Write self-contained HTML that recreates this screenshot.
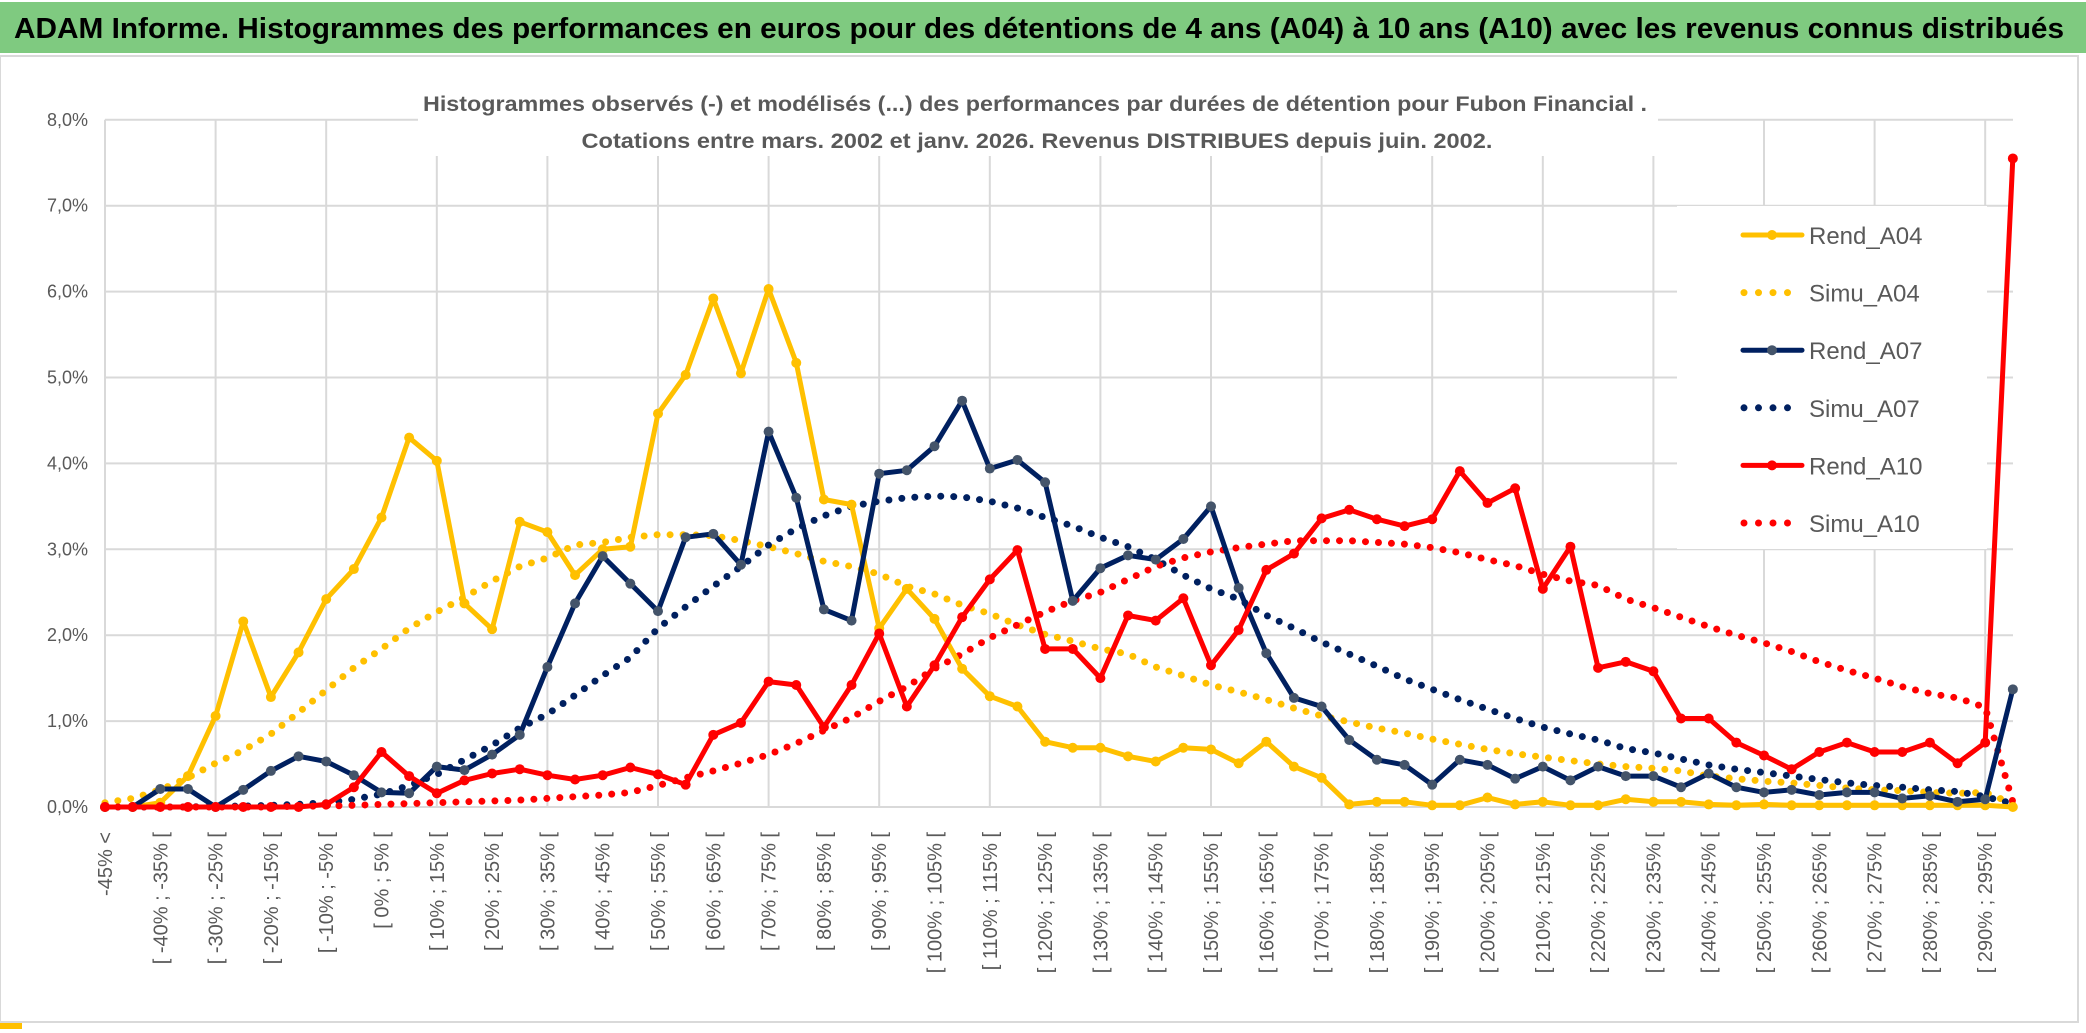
<!DOCTYPE html>
<html><head><meta charset="utf-8">
<style>
html,body{margin:0;padding:0;background:#fff;}
body{width:2086px;height:1033px;overflow:hidden;position:relative;font-family:"Liberation Sans",sans-serif;}
#title{position:absolute;left:0;top:2px;width:2086px;height:51px;background:#7fca80;}
#chartframe{position:absolute;left:0;top:55px;width:2079px;height:968px;border:2px solid #d9d9d9;border-left:1px solid #d9d9d9;box-sizing:border-box;}
svg{position:absolute;left:0;top:0;}
</style></head>
<body>
<div id="title"></div>
<div id="chartframe"></div>
<svg id="chart" width="2086" height="1033">
  <text x="14" y="38" font-family="Liberation Sans, sans-serif" font-weight="bold" font-size="29" fill="#000" textLength="2050" lengthAdjust="spacingAndGlyphs">ADAM Informe. Histogrammes des performances en euros pour des détentions de 4 ans (A04) à 10 ans (A10) avec les revenus connus distribués</text>
  <g id="grid"></g>
  <rect x="418" y="82" width="1240" height="74" fill="#fff"/>
  <text x="1035" y="111" text-anchor="middle" font-size="21" font-weight="bold" fill="#595959" textLength="1224" lengthAdjust="spacingAndGlyphs">Histogrammes observés (-) et modélisés (...) des performances par durées de détention pour Fubon Financial .</text>
  <text x="1037" y="148" text-anchor="middle" font-size="21" font-weight="bold" fill="#595959" textLength="911" lengthAdjust="spacingAndGlyphs">Cotations entre mars. 2002 et janv. 2026. Revenus DISTRIBUES depuis juin. 2002.</text>
  <g id="series"></g>
  <g id="legend"></g>
  <g id="xlabels"></g>
  <g id="ylabels"></g>
  <rect x="0" y="1023" width="22" height="6" fill="#ffc000"/>
</svg>
<script>
const categoriesCount = 70;
const yTicks = ["0,0%","1,0%","2,0%","3,0%","4,0%","5,0%","6,0%","7,0%","8,0%"];
const rendA04 = [0,0,0.05,0.36,1.06,2.16,1.28,1.8,2.42,2.77,3.37,4.3,4.03,2.37,2.07,3.32,3.2,2.7,3.0,3.03,4.58,5.03,5.92,5.05,6.03,5.17,3.58,3.52,2.08,2.54,2.19,1.61,1.29,1.17,0.76,0.69,0.69,0.59,0.53,0.69,0.67,0.51,0.76,0.47,0.34,0.03,0.06,0.06,0.02,0.02,0.11,0.03,0.06,0.02,0.02,0.09,0.06,0.06,0.03,0.02,0.03,0.02,0.02,0.02,0.02,0.02,0.02,0.02,0.02,0.0];
const simuA04 = [0.05,0.1,0.2,0.34,0.51,0.66,0.85,1.1,1.36,1.62,1.84,2.08,2.27,2.44,2.63,2.8,2.9,3.05,3.08,3.14,3.17,3.17,3.16,3.1,3.03,2.95,2.86,2.8,2.71,2.57,2.48,2.35,2.25,2.12,2.01,1.93,1.84,1.78,1.63,1.53,1.42,1.34,1.25,1.15,1.06,0.99,0.92,0.86,0.79,0.73,0.67,0.62,0.58,0.54,0.5,0.47,0.45,0.42,0.36,0.33,0.3,0.28,0.25,0.22,0.2,0.19,0.17,0.16,0.17,0.04];
const rendA07 = [0,0,0.21,0.21,0,0.2,0.42,0.59,0.53,0.37,0.17,0.16,0.47,0.43,0.61,0.84,1.63,2.37,2.92,2.6,2.28,3.14,3.18,2.82,4.37,3.6,2.3,2.17,3.88,3.92,4.2,4.73,3.94,4.04,3.78,2.4,2.78,2.93,2.88,3.12,3.5,2.55,1.79,1.27,1.17,0.78,0.55,0.49,0.26,0.55,0.49,0.33,0.47,0.31,0.47,0.36,0.36,0.23,0.39,0.23,0.17,0.2,0.14,0.17,0.17,0.1,0.13,0.06,0.09,1.37];
const simuA07 = [0,0,0,0,0.01,0.01,0.02,0.03,0.05,0.09,0.15,0.25,0.38,0.55,0.72,0.92,1.08,1.3,1.53,1.74,2.08,2.33,2.57,2.8,3.05,3.24,3.39,3.5,3.56,3.6,3.62,3.61,3.56,3.48,3.37,3.27,3.14,3.03,2.88,2.7,2.54,2.42,2.23,2.08,1.92,1.78,1.64,1.49,1.37,1.25,1.14,1.03,0.93,0.85,0.78,0.68,0.63,0.56,0.49,0.44,0.4,0.36,0.32,0.28,0.25,0.23,0.2,0.18,0.12,0.04];
const rendA10 = [0,0,0,0,0,0,0,0,0.03,0.23,0.64,0.36,0.16,0.31,0.39,0.44,0.37,0.32,0.37,0.46,0.38,0.26,0.84,0.98,1.46,1.42,0.93,1.42,2.02,1.17,1.65,2.21,2.65,2.99,1.84,1.84,1.5,2.23,2.17,2.43,1.65,2.06,2.76,2.95,3.36,3.46,3.35,3.27,3.35,3.91,3.54,3.71,2.54,3.03,1.62,1.69,1.58,1.03,1.03,0.75,0.6,0.44,0.64,0.75,0.64,0.64,0.75,0.51,0.75,7.55];
const simuA10 = [0,0,0,0,0,0,0,0.01,0.01,0.02,0.03,0.04,0.05,0.06,0.07,0.08,0.1,0.12,0.14,0.17,0.25,0.34,0.42,0.51,0.61,0.74,0.89,1.04,1.23,1.4,1.61,1.78,1.97,2.12,2.27,2.4,2.5,2.65,2.8,2.9,2.97,3.02,3.06,3.1,3.1,3.1,3.08,3.06,3.02,2.96,2.88,2.81,2.71,2.63,2.58,2.42,2.32,2.21,2.1,2.0,1.91,1.81,1.69,1.59,1.5,1.4,1.32,1.27,1.16,0.06];
const legendNames = ["Rend_A04","Simu_A04","Rend_A07","Simu_A07","Rend_A10","Simu_A10"];

const NS="http://www.w3.org/2000/svg";
const X0=105, STEP=27.65, Y0=807, YPER=85.9;
function xs(i){return X0+STEP*i;}
function ys(v){return Y0-YPER*v;}
function mk(tag,attrs,parent){const e=document.createElementNS(NS,tag);for(const k in attrs)e.setAttribute(k,attrs[k]);parent.appendChild(e);return e;}
function catLabel(i){if(i===0)return "-45% <";const lo=-45+5*(i-1);return "[ "+lo+"% ; "+(lo+5)+"% [";}

const grid=document.getElementById('grid');
for(let t=0;t<yTicks.length;t++){
  const l=mk('line',{x1:X0,x2:2013,y1:ys(t),y2:ys(t),stroke:'#d9d9d9','stroke-width':2},grid);
  
  
}
for(let i=0;i<categoriesCount;i+=4){
  const l=mk('line',{x1:xs(i),x2:xs(i),y1:ys(8),y2:ys(0),stroke:'#d9d9d9','stroke-width':2},grid);
  
  
}
const yl=document.getElementById('ylabels');
yTicks.forEach((t,k)=>{
  const e=mk('text',{x:88,y:ys(k)+6,'text-anchor':'end','font-size':18,fill:'#595959'},yl);
  e.textContent=t;
  
  
});
const xl=document.getElementById('xlabels');
for(let i=0;i<categoriesCount-1;i+=2){
  const x=xs(i)+7,y=832;
  const e=mk('text',{x:x,y:y,'text-anchor':'end','font-size':20,fill:'#595959',transform:`rotate(-90 ${x} ${y})`},xl);
  e.textContent=catLabel(i);
  
  
}
const sg=document.getElementById('series');
function pts(arr){return arr.map((v,i)=>xs(i).toFixed(1)+','+ys(v).toFixed(1)).join(' ');}
function dotted(arr,color,name){
  const p=mk('polyline',{points:pts(arr),fill:'none',stroke:color,'stroke-width':7,'stroke-linecap':'round','stroke-dasharray':'0 13'},sg);
  
  
}
function solid(arr,color,mcolor,name){
  const p=mk('polyline',{points:pts(arr),fill:'none',stroke:color,'stroke-width':5,'stroke-linejoin':'round'},sg);
  
  
  arr.forEach((v,i)=>{
    const c=mk('circle',{cx:xs(i),cy:ys(v),r:5,fill:mcolor},sg);
    
    
  });
}
dotted(simuA04,'#ffc000','simu-a04-line');
dotted(simuA07,'#002060','simu-a07-line');
dotted(simuA10,'#ff0000','simu-a10-line');
solid(rendA04,'#ffc000','#ffc000','rend-a04-line');
solid(rendA07,'#002060','#44546a','rend-a07-line');
solid(rendA10,'#ff0000','#ff0000','rend-a10-line');

const lg=document.getElementById('legend');
const lb=mk('rect',{x:1677,y:206,width:310,height:343,fill:'#fff'},lg);


const lcol=['#ffc000','#ffc000','#002060','#002060','#ff0000','#ff0000'];
const lmk=['#ffc000','#ffc000','#44546a','#002060','#ff0000','#ff0000'];
legendNames.forEach((n,k)=>{
  const y=235+57.6*k;
  const g=mk('g',{},lg);
  
  
  if(k%2===0){
    mk('line',{x1:1743,x2:1802,y1:y,y2:y,stroke:lcol[k],'stroke-width':5,'stroke-linecap':'round'},g);
    mk('circle',{cx:1772,cy:y,r:5,fill:lmk[k]},g);
  }else{
    mk('line',{x1:1744,x2:1802,y1:y,y2:y,stroke:lcol[k],'stroke-width':7,'stroke-linecap':'round','stroke-dasharray':'0 14.5'},g);
  }
  const t=mk('text',{x:1809,y:y+9,'font-size':24,fill:'#595959'},g);
  t.textContent=n;
});
</script>
</body></html>
